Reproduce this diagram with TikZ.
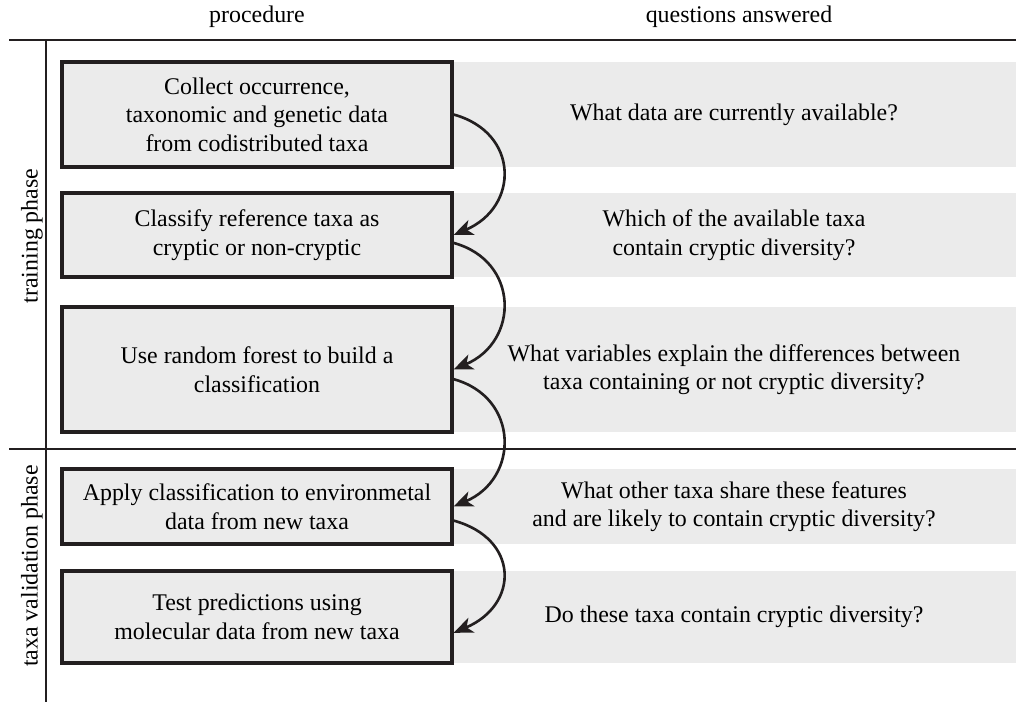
\documentclass[tikz,border=0pt]{standalone}
\usepackage{fontspec}
\setmainfont{Liberation Serif}
\usetikzlibrary{arrows.meta}
\definecolor{bandgray}{HTML}{EBEBEB}
\definecolor{linegray}{HTML}{231F20}

\begin{document}
\begin{tikzpicture}[x=0.02cm, y=-0.02cm, font=\fontsize{13.6}{16.3}\selectfont,
    proc/.style={draw=linegray, line width=1.8pt, fill=bandgray, minimum width=7.8cm, align=center, inner sep=0pt},
    band/.style={fill=bandgray, minimum width=11.28cm, align=center, inner sep=0pt},
    rule/.style={draw=linegray, line width=1.5pt},
    flow/.style={-{Stealth[length=11pt,width=9pt,inset=3pt]}, line width=1.5pt, draw=linegray}]
  \useasboundingbox (0,0) rectangle (1016,702);

  % column heads and rules
  \node (hproc) at (257,17) {procedure};
  \node (hques) at (739,17) {questions answered};
  \draw[rule] (9,40) -- (1016,40);
  \draw[rule] (9,449) -- (1016,449);
  \draw[rule] (46,40) -- (46,702);
  \node[rotate=90] (train) at (32,236) {training phase};
  \node[rotate=90] (valid) at (32,566) {taxa validation phase};

  % questions
  \node[band, minimum height=2.1cm] (q1) at (734,114.5) {What data are currently available?};
  \node[band, minimum height=1.68cm] (q2) at (734,235) {Which of the available taxa\\contain cryptic diversity?};
  \node[band, minimum height=2.5cm] (q3) at (734,369.5) {What variables explain the differences between\\taxa containing or not cryptic diversity?};
  \node[band, minimum height=1.5cm] (q4) at (734,506.5) {What other taxa share these features\\and are likely to contain cryptic diversity?};
  \node[band, minimum height=1.84cm] (q5) at (734,617) {Do these taxa contain cryptic diversity?};

  % procedure
  \node[proc, minimum height=2.1cm] (p1) at (257,114.5) {Collect occurrence,\\taxonomic and genetic data\\from codistributed taxa};
  \node[proc, minimum height=1.68cm] (p2) at (257,235) {Classify reference taxa as\\cryptic or non-cryptic};
  \node[proc, minimum height=2.5cm] (p3) at (257,369.5) {Use random forest to build a\\classification};
  \node[proc, minimum height=1.5cm] (p4) at (257,506.5) {Apply classification to environmetal\\data from new taxa};
  \node[proc, minimum height=1.84cm] (p5) at (257,617) {Test predictions using\\molecular data from new taxa};

  \draw[flow] (p1.east) .. controls +(66,18) and +(66,-28) .. (p2.east);
  \draw[flow] ([yshift=-4.5pt]p2.east) .. controls +(66,18) and +(66,-28) .. (p3.east);
  \draw[flow] ([yshift=-5.5pt]p3.east) .. controls +(66,18) and +(66,-28) .. (p4.east);
  \draw[flow] ([yshift=-8pt]p4.east) .. controls +(66,18) and +(66,-28) .. ([yshift=-9pt]p5.east);
\end{tikzpicture}
\end{document}
